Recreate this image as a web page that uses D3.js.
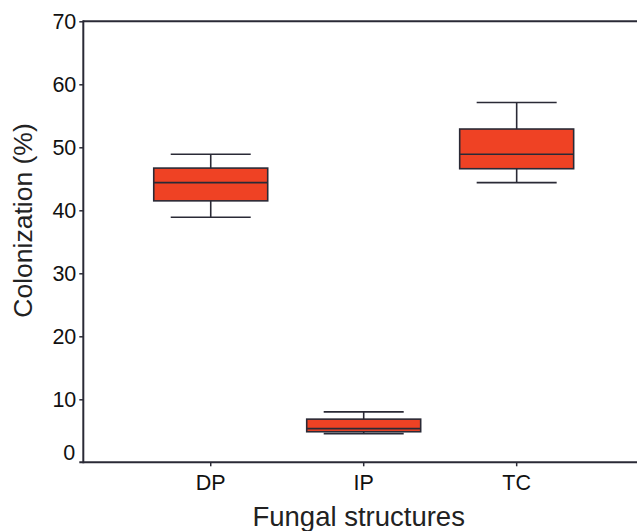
<!DOCTYPE html>
<html>
<head>
<meta charset="utf-8">
<script src="https://cdn.jsdelivr.net/npm/d3@7/dist/d3.min.js"></script>
<style>
  html, body { margin: 0; padding: 0; background: #fff; }
  svg { display: block; font-family: "Liberation Sans", Arial, sans-serif; }
</style>
</head>
<body>
<svg id="chart" width="637" height="531"></svg>
<script>
const categories = ["DP", "IP", "TC"];
const whiskerLow  = [38.9, 4.55, 44.4];
const boxLow      = [41.5, 4.85, 46.6];
const medians     = [44.4, 5.35, 48.9];
const boxHigh     = [46.7, 6.85, 52.9];
const whiskerHigh = [48.9, 8.0, 57.1];
const yTicks = [0, 10, 20, 30, 40, 50, 60, 70];
const xTitle = "Fungal structures";
const yTitle = "Colonization (%)";

(function () {
const W = 637, H = 531;
const mLeft = 83.3, mRight = 644.1, mTop = 21.3, mBottom = 462.3;
const ink = "#2a2a36";
const fill = "#ef4224";

const svg = d3.select("#chart");

const x = d3.scaleBand().domain(categories).range([mLeft, mRight]).paddingInner(0).paddingOuter(0.333);
const y = d3.scaleLinear().domain([0, 70]).range([mBottom, mTop]);

const data = categories.map((c, i) => ({
  c, wl: whiskerLow[i], bl: boxLow[i], md: medians[i], bh: boxHigh[i], wh: whiskerHigh[i]
}));

// top frame line
svg.append("line")
  .attr("x1", mLeft).attr("x2", W).attr("y1", y(70)).attr("y2", y(70))
  .attr("stroke", ink).attr("stroke-width", 2);

// Y axis
const yAxis = svg.append("g")
  .attr("transform", `translate(${mLeft},0)`)
  .call(d3.axisLeft(y).tickValues(yTicks).tickSize(4).tickPadding(3).tickFormat(d3.format("d")));
yAxis.select(".domain").remove();
yAxis.selectAll(".tick line").attr("stroke", ink).attr("stroke-width", 1.5);
yAxis.selectAll(".tick").filter(d => d === 0).select("line").remove();
yAxis.selectAll(".tick").filter(d => d === 0).select("text").attr("dy", "-0.15em").attr("x", -8);
yAxis.selectAll(".tick text").attr("fill", "#111").style("font-size", "21.5px")
  .style("font-family", "'Liberation Sans', Arial, sans-serif");
svg.append("line")
  .attr("x1", mLeft).attr("x2", mLeft).attr("y1", y(70) - 1).attr("y2", mBottom + 1)
  .attr("stroke", ink).attr("stroke-width", 2);

// X axis
const xAxis = svg.append("g")
  .attr("transform", `translate(0,${mBottom})`)
  .call(d3.axisBottom(x).tickSize(4).tickPadding(8));
xAxis.select(".domain").remove();
xAxis.selectAll(".tick line").attr("stroke", ink).attr("stroke-width", 1.5);
xAxis.selectAll(".tick text").attr("fill", "#111").style("font-size", "21.5px")
  .style("font-family", "'Liberation Sans', Arial, sans-serif");
svg.append("line")
  .attr("x1", mLeft - 4).attr("x2", W).attr("y1", mBottom).attr("y2", mBottom)
  .attr("stroke", ink).attr("stroke-width", 2);

// boxes
const bw = x.bandwidth();
const boxW = bw * 0.745;
const capW = bw * 0.523;
const g = svg.append("g").selectAll("g").data(data).join("g")
  .attr("transform", d => `translate(${x(d.c) + bw / 2},0)`);

g.append("line").attr("x1", 0).attr("x2", 0)
  .attr("y1", d => y(d.wl)).attr("y2", d => y(d.wh))
  .attr("stroke", ink).attr("stroke-width", 1.6);
g.append("line").attr("x1", -capW / 2).attr("x2", capW / 2)
  .attr("y1", d => y(d.wh)).attr("y2", d => y(d.wh))
  .attr("stroke", ink).attr("stroke-width", 1.6);
g.append("line").attr("x1", -capW / 2).attr("x2", capW / 2)
  .attr("y1", d => y(d.wl)).attr("y2", d => y(d.wl))
  .attr("stroke", ink).attr("stroke-width", 1.6);
g.append("rect")
  .attr("x", -boxW / 2).attr("width", boxW)
  .attr("y", d => y(d.bh)).attr("height", d => y(d.bl) - y(d.bh))
  .attr("fill", fill).attr("stroke", ink).attr("stroke-width", 1.6);
g.append("line").attr("x1", -boxW / 2).attr("x2", boxW / 2)
  .attr("y1", d => y(d.md)).attr("y2", d => y(d.md))
  .attr("stroke", ink).attr("stroke-width", 1.6);

// titles
svg.append("text")
  .attr("x", 358.7).attr("y", 526)
  .attr("text-anchor", "middle")
  .attr("fill", "#222")
  .style("font-size", "27.5px")
  .text(xTitle);
svg.append("text")
  .attr("transform", "translate(31.5,220.5) rotate(-90)")
  .attr("text-anchor", "middle")
  .attr("fill", "#222")
  .style("font-size", "26.5px")
  .text(yTitle);
})();
</script>
</body>
</html>
